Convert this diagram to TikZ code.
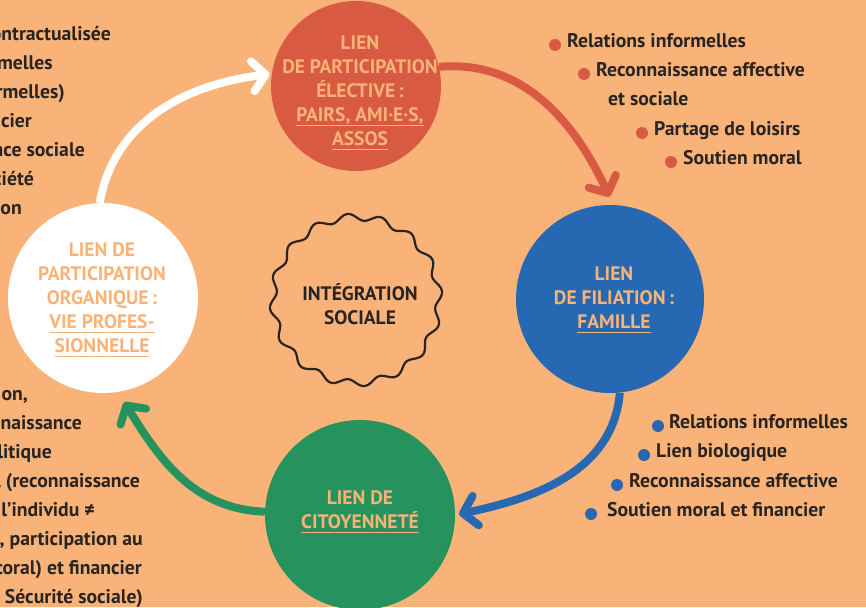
\documentclass[tikz,border=0pt]{standalone}
\usepackage{fontspec}
\setmainfont{PT Sans}
\usetikzlibrary{arrows.meta}

\definecolor{fond}{RGB}{249,179,120}
\definecolor{rouge}{RGB}{217,90,66}
\definecolor{bleu}{RGB}{38,104,178}
\definecolor{vert}{RGB}{38,146,94}
\definecolor{encre}{RGB}{40,36,34}

% underline in the background colour
\newcommand{\souligne}[1]{\leavevmode\setbox0\hbox{#1}\rlap{\color{fond}\rule[-4.5pt]{\wd0}{1.4pt}}\box0}

\begin{document}
\begin{tikzpicture}[x=1pt,y=1pt,
  lien/.style={circle,minimum size=#1,inner sep=0pt},
  titre/.style={text=fond,font=\bfseries\fontsize{19.5}{24}\selectfont,align=center,inner sep=0pt},
  item/.style={anchor=mid west,text=encre,font=\bfseries\fontsize{19.7}{22}\selectfont,inner sep=0pt},
  reste/.style={item,anchor=mid east},
  fleche/.style={line width=8pt,-{Straight Barb[length=13pt,width=30pt,round]}}]
\useasboundingbox (0,0) rectangle (866,-607);
\fill[fond] (0,0) rectangle (866,-607);

% The four circles
\node[lien=170,fill=rouge] (participe) at (356,-86) {};
\node[lien=188,fill=bleu] (filiation) at (610,-299) {};
\node[lien=190,fill=vert] (citoyen) at (360,-515) {};
\node[lien=190,fill=white] (organique) at (103,-298) {};

% Titles
\node[titre] (participe-t) at (360,-93) {LIEN\\DE PARTICIPATION\\ÉLECTIVE\,:\\\souligne{PAIRS, AMI·E·S,}\\\souligne{ASSOS}};
\node[titre] (filiation-t) at (614,-300) {LIEN\\DE FILIATION\,:\\\souligne{FAMILLE}};
\node[titre] (citoyen-t) at (360,-512) {LIEN DE\\\souligne{CITOYENNETÉ}};
\node[titre] (organique-t) at (102,-300) {LIEN DE\\PARTICIPATION\\ORGANIQUE\,:\\\souligne{VIE PROFES-}\\\souligne{SIONNELLE}};

% Centre
\coordinate (centre) at (356,-300);
\draw[encre,line width=2.2pt,shift={(centre)}]
  plot[smooth cycle,domain=0:358,samples=180,variable=\t]
  ({(83+3.5*sin(16*\t))*cos(\t)},{(83+3.5*sin(16*\t))*sin(\t)});
\node[titre,text=encre] (integration) at (360,-304) {INTÉGRATION\\SOCIALE};

% Cycle arrows
\draw[fleche,white] (organique.92) to[out=80,in=187] ([xshift=-2pt]participe.172);
\draw[fleche,rouge,shorten >=9pt] (participe.13) to[out=5,in=115] (filiation.88);
\draw[fleche,bleu,shorten >=4pt] (filiation.-84) to[out=-95,in=12] (citoyen.0);
\draw[fleche,vert,shorten >=12pt] (citoyen.178) to[out=178,in=-58] (organique.-81);

% Elective list
\foreach \x/\y/\t [count=\i] in {567/45/Relations informelles,596/74/Reconnaissance affective,654/133/Partage de loisirs,683/162/Soutien moral}{
  \node[item] (rouge-\i) at (\x,-\y) {\t};
  \fill[rouge] ([xshift=-12pt]rouge-\i.mid west) circle (6);
}
\node[item] (rouge-2b) at (608,-103) {et sociale};

% Family list
\foreach \b/\x/\y/\t [count=\i] in {658/669/426/Relations informelles,644/656/455/Lien biologique,617/629/485/Reconnaissance affective,591/607/514/Soutien moral et financier}{
  \node[item] (bleu-\i) at (\x,-\y) {\t};
  \fill[bleu] (\b,-\y) circle (6);
}

% Lists cut by the left edge
\foreach \x/\t [count=\i] in {111/ontractualisée,53/rmelles,65/ormelles),32/ncier,85/ance sociale,34/ociété,22/ion}{
  \node[reste] (haut-\i) at (\x,{-38-29*(\i-1)}) {\t};
}
\foreach \x/\t [count=\i] in {28/{on,},82/naissance,52/litique,140/l (reconnaissance,95/l’individu ≠,143/{s, participation au},142/toral) et financier,143/Sécurité sociale)}{
  \node[reste] (bas-\i) at (\x,{-398-29*(\i-1)}) {\t};
}
\end{tikzpicture}
\end{document}
